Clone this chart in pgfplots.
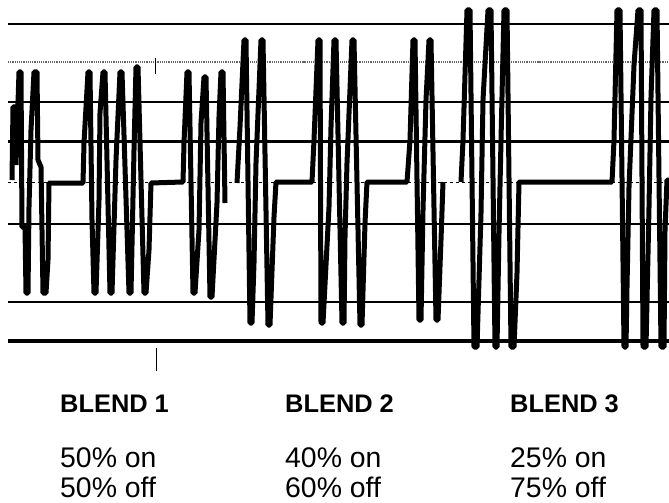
\documentclass[border=0pt]{standalone}
\usepackage{pgfplots}
\pgfplotsset{compat=1.18}
\usepackage{fontspec}
\setmainfont{Liberation Sans}
\begin{document}
\begin{tikzpicture}
\begin{axis}[width=669bp,height=503bp,scale only axis,
  xmin=0,xmax=669,ymin=0,ymax=503,y dir=reverse,
  hide axis,clip=false]
% horizontal reference lines
\addplot[black,line width=1.8bp] coordinates {(8,24)(669,24)};
\addplot[black!60,line width=1.2bp,densely dotted] coordinates {(8,62)(669,62)};
\addplot[black,line width=1.8bp] coordinates {(8,102)(669,102)};
\addplot[black,line width=3bp] coordinates {(8,141)(669,141)};
\addplot[black,line width=1bp,dashed] coordinates {(8,182)(669,182)};
\addplot[black,line width=1.5bp] coordinates {(8,224)(669,224)};
\addplot[black,line width=1.5bp] coordinates {(8,302)(669,302)};
\addplot[black,line width=3.2bp] coordinates {(8,341)(669,341)};
% small scan marks
\addplot[black,line width=0.8bp] coordinates {(156,348)(156,371)};
\addplot[black,line width=0.8bp] coordinates {(155,58)(155,74)};
% waveform: blend 1
\addplot[black,line width=5bp,line join=bevel] coordinates {
(12,180)(13,107)(16,107)(16,165)(19,72)(21,72)(22,227)(25,227)(26,293)(28,293)(29,207)(31,130)(34,72)(37,72)(38,160)(41,167)(43,293)(46,293)(48,260)(49,183)
(83,183)(84,143)(88,72)(90,72)(92,220)(94,293)(96,293)(99,200)(100,113)(103,72)(105,72)(110,293)(112,293)(116,160)(120,72)(122,72)(129,293)(131,293)(134,150)(136,67)(138,67)(144,293)(146,293)(149,250)(151,183)
(183,182)(184,143)(187,72)(189,72)(193,293)(195,293)(199,230)(201,123)(204,77)(206,77)(210,297)(212,297)(217,203)(219,117)(221,72)(223,72)(225,203)};
% blend 2
\addplot[black,line width=5bp,line join=bevel] coordinates {
(237,183)(240,127)(244,40)(246,40)(250,323)(252,323)(254,263)(256,163)(261,40)(263,40)(268,325)(270,325)(274,217)(276,182)
(312,182)(314,140)(318,40)(320,40)(321,323)(323,323)(329,207)(331,127)(334,40)(336,40)(342,323)(344,323)(345,237)(347,163)(352,40)(354,40)(360,325)(362,325)(365,223)(367,182)
(407,182)(410,140)(413,40)(415,40)(419,320)(421,320)(423,210)(426,100)(429,40)(431,40)(436,320)(438,320)(441,240)(443,182)};
% blend 3
\addplot[black,line width=5bp,line join=bevel] coordinates {
(461,182)(463,140)(467,10)(470,10)(474,347)(477,347)(481,213)(483,100)(488,10)(491,10)(495,347)(497,347)(499,233)(501,140)(504,10)(507,10)(511,347)(514,347)(517,273)(519,182)
(612,182)(614,140)(617,10)(620,10)(624,347)(626,347)(627,287)(629,187)(634,65)(638,10)(641,10)(643,347)(646,347)(649,207)(651,97)(654,10)(657,10)(661,347)(664,347)(665,230)(667,180)(669,180)};
% labels
\node[anchor=base west,inner sep=0pt,font=\fontsize{25.5}{28}\selectfont\bfseries] at (axis cs:60,412) {BLEND 1};
\node[anchor=base west,inner sep=0pt,font=\fontsize{25.5}{28}\selectfont\bfseries] at (axis cs:285,412) {BLEND 2};
\node[anchor=base west,inner sep=0pt,font=\fontsize{25.5}{28}\selectfont\bfseries] at (axis cs:510,412) {BLEND 3};
\node[anchor=base west,inner sep=0pt,font=\fontsize{28.5}{32}\selectfont] at (axis cs:60,467) {50\% on};
\node[anchor=base west,inner sep=0pt,font=\fontsize{28.5}{32}\selectfont] at (axis cs:60,497) {50\% off};
\node[anchor=base west,inner sep=0pt,font=\fontsize{28.5}{32}\selectfont] at (axis cs:285,467) {40\% on};
\node[anchor=base west,inner sep=0pt,font=\fontsize{28.5}{32}\selectfont] at (axis cs:285,497) {60\% off};
\node[anchor=base west,inner sep=0pt,font=\fontsize{28.5}{32}\selectfont] at (axis cs:510,467) {25\% on};
\node[anchor=base west,inner sep=0pt,font=\fontsize{28.5}{32}\selectfont] at (axis cs:510,497) {75\% off};
\end{axis}
\pgfresetboundingbox
\useasboundingbox (current axis.south west) rectangle (current axis.north east);
\end{tikzpicture}
\end{document}
